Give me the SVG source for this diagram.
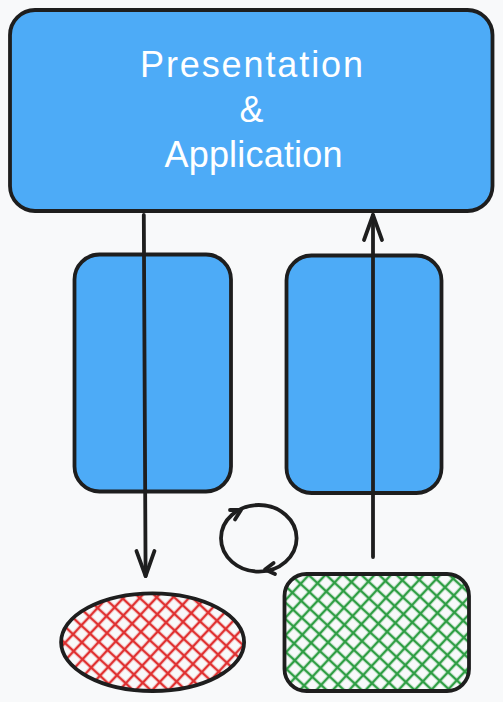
<svg xmlns="http://www.w3.org/2000/svg" width="503" height="702" viewBox="0 0 503 702">
<style>
.box{fill:#4dabf7;stroke:#1e1e1e;stroke-width:3.8;stroke-linejoin:round}
.line{fill:none;stroke:#1e1e1e;stroke-width:3.8;stroke-linecap:round;stroke-linejoin:round}
.lbl{font-family:"Liberation Sans",Arial,sans-serif;font-size:36px;fill:#ffffff;text-anchor:middle}
</style>
<defs>
<pattern id="hatchRed" width="12" height="12" patternUnits="userSpaceOnUse" patternTransform="rotate(43)">
<path d="M0,6 H12 M6,0 V12" stroke="#e03131" stroke-width="2.5" fill="none"/>
</pattern>
<pattern id="hatchGreen" width="12" height="12" patternUnits="userSpaceOnUse" patternTransform="rotate(43)">
<path d="M0,6 H12 M6,0 V12" stroke="#2f9e44" stroke-width="2.5" fill="none"/>
</pattern>
<marker id="head" markerUnits="userSpaceOnUse" markerWidth="40" markerHeight="40" refX="0" refY="0" orient="auto" overflow="visible">
<path d="M-25,-9 L0,0 L-25,9" fill="none" stroke="#1e1e1e" stroke-width="3.8" stroke-linecap="round" stroke-linejoin="round"/>
</marker>
</defs>
<rect width="503" height="702" fill="#f8f9fa"/>
<g id="presentation-application">
<rect class="box" x="10" y="10" width="482.5" height="201" rx="25" ry="25"/>
<text class="lbl" x="251.5" y="77" textLength="223" lengthAdjust="spacing">Presentation</text>
<text class="lbl" x="251.5" y="122">&amp;</text>
<text class="lbl" x="253.5" y="167" textLength="178" lengthAdjust="spacing">Application</text>
</g>
<g id="left-box">
<rect class="box" x="74.5" y="254.5" width="156.5" height="237" rx="25" ry="25"/>
</g>
<g id="right-box">
<rect class="box" x="286.5" y="255.5" width="155" height="237.5" rx="25" ry="25"/>
</g>
<g id="red-ellipse">
<ellipse cx="152.6" cy="642.2" rx="91.5" ry="48.8" fill="url(#hatchRed)" stroke="#1e1e1e" stroke-width="3.8"/>
</g>
<g id="green-rect">
<rect x="284.5" y="574" width="184.5" height="117" rx="22" ry="22" fill="url(#hatchGreen)" stroke="#1e1e1e" stroke-width="3.8"/>
</g>
<g id="cycle">
<ellipse class="line" cx="258.8" cy="538.3" rx="37.8" ry="33.3"/>
<path class="line" d="M230,510 L241,510 L235,519.5"/>
<path class="line" d="M275,574 L265,569.5 L273.6,563"/>
</g>
<g id="connectors">
<path class="line" d="M143.8,215 L145.6,576" marker-end="url(#head)"/>
<path class="line" d="M373,557 L373,215" marker-end="url(#head)"/>
</g>
</svg>
